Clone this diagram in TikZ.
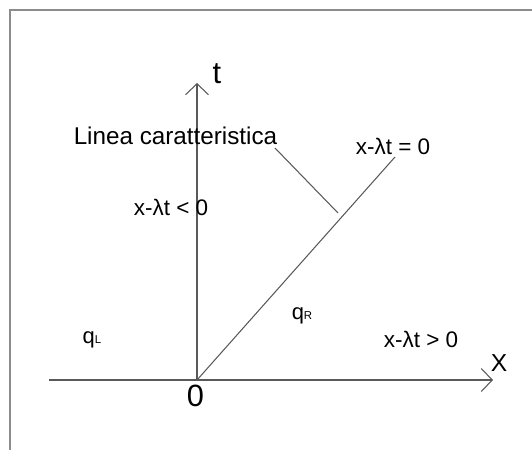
\documentclass[tikz,border=0pt]{standalone}
\usepackage{fontspec}
\setmainfont{Liberation Sans}
\usetikzlibrary{arrows.meta}
\begin{document}
\begin{tikzpicture}[x=0.02cm, y=-0.02cm,
    line/.style={draw=black!65, line width=0.6pt},
    axis/.style={line, -{Straight Barb[length=0.22cm, width=0.46cm, line width=0.6pt]}},
    every node/.style={inner sep=0pt, text=black}]
    \useasboundingbox (0,0) rectangle (532,450);
    \draw[black!45, line width=0.7pt] (10,450) -- (10,10) -- (532,10);

    % assi
    \coordinate (O) at (197,380);
    \coordinate (xstart) at (49,380);
    \coordinate (xend) at (493,380);
    \coordinate (tend) at (197,83);
    \draw[axis] (xstart) -- (xend);
    \draw[axis] (O) -- (tend);
    \node[font=\fontsize{17.5}{20}\selectfont] (t) at (217,74) {t};
    \node[font=\fontsize{14}{16}\selectfont] (X) at (499,363) {X};
    \node[font=\fontsize{17.5}{20}\selectfont] (zero) at (195.5,396) {0};

    % linea caratteristica
    \coordinate (C) at (395,157);
    \draw[line] (O) -- (C);
    \node[font=\fontsize{13.8}{16}\selectfont] (lin) at (175.5,136) {Linea caratteristica};
    \coordinate (la) at (275,148);
    \coordinate (lb) at (338,213);
    \draw[line] (la) -- (lb);

    % regioni
    \node[font=\fontsize{12.8}{15}\selectfont] (eq) at (393,146) {x-λt = 0};
    \node[font=\fontsize{12.8}{15}\selectfont] (lt) at (171,207) {x-λt < 0};
    \node[font=\fontsize{12.8}{15}\selectfont] (gt) at (421,339) {x-λt > 0};
    \node[font=\fontsize{12.5}{15}\selectfont] (qL) at (92,340) {q{\fontsize{6.5}{7}\selectfont L}};
    \node[font=\fontsize{12.5}{15}\selectfont] (qR) at (302,316) {q{\fontsize{6.5}{7}\selectfont R}};
\end{tikzpicture}
\end{document}
